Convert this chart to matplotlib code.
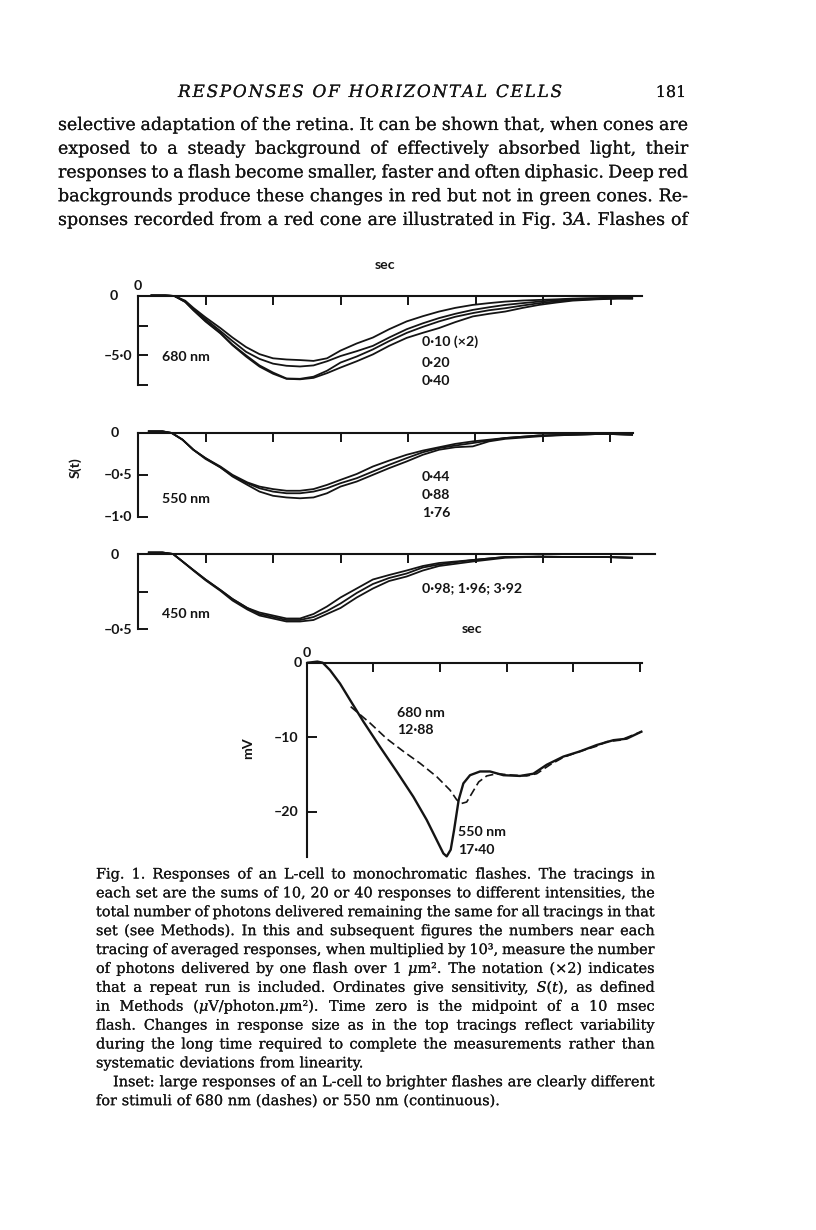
import matplotlib
matplotlib.use('Agg')
import matplotlib.pyplot as plt
import matplotlib.patheffects as pe

W, H = 816, 1230
INK = '#141414'
SANS = ['Lato', 'DejaVu Sans']
SERIF = ['DejaVu Serif']

plt.rcParams['mathtext.fontset'] = 'dejavuserif'

# ---- page text ----
header = 'RESPONSES OF HORIZONTAL CELLS'
page_no = '181'
body_lines = [
    'selective adaptation of the retina. It can be shown that, when cones are',
    'exposed to a steady background of effectively absorbed light, their',
    'responses to a flash become smaller, faster and often diphasic. Deep red',
    'backgrounds produce these changes in red but not in green cones. Re-',
    'sponses recorded from a red cone are illustrated in Fig. 3$A$. Flashes of',
]
caption_lines = [
    'Fig. 1. Responses of an L-cell to monochromatic flashes. The tracings in',
    'each set are the sums of 10, 20 or 40 responses to different intensities, the',
    'total number of photons delivered remaining the same for all tracings in that',
    'set (see Methods). In this and subsequent figures the numbers near each',
    'tracing of averaged responses, when multiplied by 10³, measure the number',
    'of photons delivered by one flash over 1 $\\mu$m². The notation (×2) indicates',
    'that a repeat run is included. Ordinates give sensitivity, $S(t)$, as defined',
    'in Methods ($\\mu$V/photon.$\\mu$m²). Time zero is the midpoint of a 10 msec',
    'flash. Changes in response size as in the top tracings reflect variability',
    'during the long time required to complete the measurements rather than',
    'systematic deviations from linearity.',
    'Inset: large responses of an L-cell to brighter flashes are clearly different',
    'for stimuli of 680 nm (dashes) or 550 nm (continuous).',
]
caption_ragged = [10, 12]   # paragraph ends, not justified
caption_indent = [11]

# ---- 680 nm traces, S(t) ----
t680 = [0.010, 0.020, 0.027, 0.035, 0.041, 0.050, 0.061, 0.070, 0.080, 0.090,
        0.100, 0.110, 0.120, 0.130, 0.140, 0.150, 0.162, 0.174, 0.186, 0.199,
        0.211, 0.223, 0.235, 0.248, 0.260, 0.272, 0.285, 0.297, 0.310, 0.322,
        0.340, 0.355, 0.366]
s680_a = [0.05, 0.05, 0.0, -0.4, -1.0, -1.8, -2.7, -3.5, -4.3, -4.9,
          -5.25, -5.35, -5.4, -5.47, -5.25, -4.6, -4.0, -3.5, -2.8, -2.14,
          -1.7, -1.31, -1.0, -0.75, -0.6, -0.47, -0.38, -0.33, -0.28, -0.22,
          -0.18, -0.12, -0.15]
s680_b = [0.03, 0.03, 0.0, -0.45, -1.1, -1.95, -2.95, -3.8, -4.7, -5.3,
          -5.7, -5.88, -5.94, -5.85, -5.5, -5.06, -4.65, -4.2, -3.5, -2.8,
          -2.3, -1.86, -1.5, -1.17, -0.95, -0.75, -0.6, -0.47, -0.35, -0.25,
          -0.2, -0.16, -0.19]
s680_c = [0.05, 0.05, 0.0, -0.5, -1.17, -2.1, -3.1, -4.1, -5.0, -5.85,
          -6.45, -6.95, -6.98, -6.8, -6.3, -5.61, -5.1, -4.5, -3.8, -3.11,
          -2.6, -2.14, -1.75, -1.44, -1.2, -1.03, -0.8, -0.61, -0.45, -0.33,
          -0.25, -0.2, -0.2]
s680_d = [0.05, 0.05, 0.0, -0.5, -1.2, -2.15, -3.15, -4.15, -5.1, -5.95,
          -6.55, -6.98, -7.02, -6.9, -6.5, -6.03, -5.5, -4.92, -4.2, -3.53,
          -3.1, -2.7, -2.2, -1.72, -1.5, -1.31, -1.0, -0.75, -0.55, -0.39,
          -0.28, -0.22, -0.22]

# ---- 550 nm traces ----
t550 = [0.008, 0.018, 0.025, 0.033, 0.041, 0.050, 0.061, 0.070, 0.081, 0.090,
        0.100, 0.110, 0.120, 0.130, 0.140, 0.150, 0.162, 0.174, 0.186, 0.199,
        0.211, 0.223, 0.235, 0.248, 0.260, 0.272, 0.297, 0.322, 0.346, 0.366]
s550_a = [0.02, 0.02, 0.0, -0.08, -0.2, -0.3, -0.40, -0.5, -0.59, -0.64,
          -0.67, -0.69, -0.69, -0.67, -0.62, -0.56, -0.49, -0.40, -0.33, -0.26,
          -0.21, -0.17, -0.13, -0.10, -0.08, -0.06, -0.03, -0.02, -0.01, -0.02]
s550_b = [0.02, 0.02, 0.0, -0.08, -0.2, -0.3, -0.41, -0.51, -0.60, -0.66,
          -0.70, -0.72, -0.72, -0.70, -0.66, -0.60, -0.54, -0.46, -0.38, -0.30,
          -0.23, -0.18, -0.15, -0.12, -0.09, -0.06, -0.03, -0.02, -0.01, -0.02]
s550_c = [0.02, 0.02, 0.0, -0.08, -0.2, -0.31, -0.41, -0.52, -0.62, -0.70,
          -0.75, -0.77, -0.78, -0.77, -0.72, -0.64, -0.58, -0.50, -0.42, -0.34,
          -0.26, -0.20, -0.17, -0.16, -0.10, -0.07, -0.04, -0.02, -0.01, -0.02]

# ---- 450 nm traces ----
t450 = [0.008, 0.018, 0.026, 0.033, 0.041, 0.050, 0.061, 0.070, 0.081, 0.090,
        0.100, 0.110, 0.120, 0.130, 0.140, 0.150, 0.162, 0.174, 0.186, 0.199,
        0.211, 0.223, 0.248, 0.272, 0.297, 0.322, 0.346, 0.366]
s450_a = [0.01, 0.01, 0.0, -0.05, -0.107, -0.17, -0.24, -0.30, -0.36, -0.39,
          -0.41, -0.43, -0.43, -0.40, -0.35, -0.29, -0.23, -0.17, -0.14, -0.11,
          -0.08, -0.06, -0.04, -0.02, -0.018, -0.02, -0.02, -0.025]
s450_b = [0.01, 0.01, 0.0, -0.05, -0.107, -0.17, -0.24, -0.30, -0.36, -0.40,
          -0.42, -0.44, -0.44, -0.42, -0.38, -0.33, -0.26, -0.20, -0.16, -0.13,
          -0.09, -0.07, -0.04, -0.02, -0.018, -0.02, -0.02, -0.025]
s450_c = [0.01, 0.01, 0.0, -0.05, -0.11, -0.175, -0.245, -0.31, -0.37, -0.41,
          -0.43, -0.45, -0.45, -0.44, -0.40, -0.36, -0.29, -0.23, -0.18, -0.15,
          -0.11, -0.08, -0.05, -0.025, -0.018, -0.02, -0.02, -0.025]

# ---- inset, mV ----
t_cont = [0.001, 0.008, 0.012, 0.0175, 0.025, 0.0325, 0.0425, 0.055, 0.0675, 0.08,
          0.09, 0.0975, 0.1025, 0.105, 0.108, 0.1105, 0.114, 0.1175, 0.1225, 0.13,
          0.1375, 0.1475, 0.16, 0.17, 0.18, 0.1925, 0.205, 0.2175, 0.23, 0.24, 0.251]
mv_cont = [0.0, 0.15, 0.0, -1.0, -2.8, -5.0, -7.9, -11.3, -14.6, -18.0,
           -21.1, -23.8, -25.6, -26.0, -25.1, -22.5, -18.4, -16.2, -15.1, -14.6,
           -14.6, -15.1, -15.2, -14.9, -13.7, -12.6, -11.9, -11.05, -10.4, -10.2, -9.26]
t_dash = [0.033, 0.0475, 0.06, 0.0725, 0.085, 0.0975, 0.1075, 0.1125, 0.116, 0.12,
          0.124, 0.129, 0.135, 0.1425, 0.155, 0.165, 0.1725, 0.1825, 0.1925, 0.205,
          0.2175, 0.225, 0.235, 0.251]
mv_dash = [-5.9, -8.1, -10.2, -11.9, -13.5, -15.3, -17.1, -18.4, -18.9, -18.7,
           -17.5, -16.0, -15.2, -14.9, -15.1, -15.2, -14.9, -13.7, -12.7, -11.9,
           -11.2, -10.6, -10.4, -9.26]

ticks_main = [0.05, 0.10, 0.15, 0.20, 0.25, 0.30, 0.35]
ticks_inset = [0.05, 0.10, 0.15, 0.20, 0.25]

fig = plt.figure(figsize=(W / 100, H / 100), dpi=100)
fig.patch.set_facecolor('white')
renderer = fig.canvas.get_renderer()

# scanned print is a touch heavier than a clean font
INKY = [pe.withStroke(linewidth=0.1, foreground=INK)]


def fx(x):
    return x / W


def fy(y):
    return 1 - y / H


def put(x, y, s, **kw):
    kw.setdefault('color', INK)
    return fig.text(fx(x), fy(y), s, **kw)


def width(s, **kw):
    t = fig.text(0, 0, s, **kw)
    w = t.get_window_extent(renderer).width
    t.remove()
    return w


def text_block(lines, x0, x1, base0, dy, ragged=(), indent=(), ind=17, q=0.5, **kw):
    # font size from a typical line, then spread words to both margins
    probe = dict(kw, fontsize=10)
    sp = width('a a', **probe) - width('aa', **probe)
    fit = []
    for i, line in enumerate(lines):
        if i in ragged:
            continue
        words = line.split(' ')
        nat = sum(width(w, **probe) for w in words) + sp * (len(words) - 1)
        fit.append((x1 - x0 - (ind if i in indent else 0)) / nat)
    fit.sort()
    size = 10 * fit[int(q * (len(fit) - 1))]
    kw = dict(kw, fontsize=size)
    sp = width('a a', **kw) - width('aa', **kw)
    for i, line in enumerate(lines):
        words = line.split(' ')
        ws = [width(w, **kw) for w in words]
        start = x0 + (ind if i in indent else 0)
        if i in ragged or len(words) == 1:
            gap = sp
        else:
            gap = max((x1 - start - sum(ws)) / (len(words) - 1), 0.55 * sp)
        x = start
        for w, wd in zip(words, ws):
            put(x, base0 + i * dy, w, ha='left', va='baseline', path_effects=INKY, **kw)
            x += wd + gap


def tracked(s, x0, x1, base, **kw):
    sp = width('a a', **kw) - width('aa', **kw)
    ws = [sp if c == ' ' else width(c, **kw) for c in s]
    extra = (x1 - x0 - sum(ws)) / (len(s) - 1)
    x = x0
    for c, wd in zip(s, ws):
        if c != ' ':
            put(x, base, c, ha='left', va='baseline', path_effects=INKY, **kw)
        x += wd + extra


# header and running text
tracked(header, 178, 562, 97, family=SERIF, style='italic', fontsize=12.2)
put(686.5, 97, page_no, ha='right', va='baseline', family=SERIF, fontsize=11.5,
    path_effects=INKY)
text_block(body_lines, 58, 688, 130, 23.75, family=SERIF)
text_block(caption_lines, 96, 655, 878.5, 18.89, ragged=caption_ragged,
           indent=caption_indent, q=0.2, family=SERIF)

LAB = dict(family=SANS, fontsize=10.2, fontweight='bold')


def panel(left, right, top, bottom, xmax, ymin, yticks, xticks, xlabels=None, major=None):
    ax = fig.add_axes([fx(left), fy(bottom), (right - left) / W, (bottom - top) / H])
    ax.set_xlim(0, xmax)
    ax.set_ylim(ymin, 0)
    ax.patch.set_visible(False)
    for side in ('right', 'bottom'):
        ax.spines[side].set_visible(False)
    for side in ('top', 'left'):
        ax.spines[side].set_linewidth(1.5)
        ax.spines[side].set_color(INK)
    ax.xaxis.tick_top()
    ax.set_xticks(xticks)
    ax.set_xticklabels([])
    if major is not None:
        ax.set_xticks(major, minor=True)
        ax.set_xticklabels(xlabels, minor=True, **LAB)
    ax.set_yticks(yticks)
    ax.set_yticklabels([])
    ax.tick_params(axis='both', which='both', direction='in', width=1.4, color=INK,
                   labelcolor=INK)
    ax.tick_params(axis='x', which='major', length=6.5)
    ax.tick_params(axis='x', which='minor', length=0, pad=3)
    ax.tick_params(axis='y', length=7.5)
    return ax


def traces(ax, t, series, lw=1.3):
    for s in series:
        ax.plot(t, s, color=INK, lw=lw, clip_on=False, solid_joinstyle='round')


# 680 nm
ax1 = panel(138, 641.6, 296, 385, 0.373, -7.5, [-2.5, -5.0, -7.5], ticks_main,
            ['0', '0·1', '0·2', '0·3'], [0.0, 0.1, 0.2, 0.3])
traces(ax1, t680, [s680_a, s680_b, s680_c, s680_d])
put(385, 265, 'sec', ha='center', va='center', **LAB)
put(113.5, 296, '0', ha='center', va='center', **LAB)
put(132, 356, '–5·0', ha='right', va='center', **LAB)
put(161.7, 357.3, '680 nm', ha='left', va='center', **LAB)
put(421.7, 341.7, '0·10 (×2)', ha='left', va='center', **LAB)
put(421.7, 363.3, '0·20', ha='left', va='center', **LAB)
put(421.7, 380.7, '0·40', ha='left', va='center', **LAB)

# 550 nm
ax2 = panel(138, 633, 433, 516.7, (633 - 138) / 1350, -1.0, [-0.5, -1.0], ticks_main)
traces(ax2, t550, [s550_a, s550_b, s550_c])
put(115, 433, '0', ha='center', va='center', **LAB)
put(132, 475, '–0·5', ha='right', va='center', **LAB)
put(132, 516.7, '–1·0', ha='right', va='center', **LAB)
put(161.7, 499.3, '550 nm', ha='left', va='center', **LAB)
put(421.7, 476.7, '0·44', ha='left', va='center', **LAB)
put(421.7, 495, '0·88', ha='left', va='center', **LAB)
put(421.7, 512.7, '1·76', ha='left', va='center', **LAB)
put(75, 468, 'S(t)', ha='center', va='center', rotation=90, **LAB)

# 450 nm
ax3 = panel(138, 655, 554, 629, (655 - 138) / 1350, -0.5, [-0.25, -0.5], ticks_main)
traces(ax3, t450, [s450_a, s450_b, s450_c])
put(115, 555, '0', ha='center', va='center', **LAB)
put(132, 630, '–0·5', ha='right', va='center', **LAB)
put(161.7, 614, '450 nm', ha='left', va='center', **LAB)
put(421.7, 588.3, '0·98; 1·96; 3·92', ha='left', va='center', **LAB)

# inset
ax4 = panel(306.7, 641.7, 662.7, 856.7, 0.25125, -26.04, [-10, -20], ticks_inset,
            ['0', '0·1', '0·2'], [0.0, 0.1, 0.2])
ax4.plot(t_cont, mv_cont, color=INK, lw=1.7, clip_on=False, solid_joinstyle='round')
ax4.plot(t_dash, mv_dash, color=INK, lw=1.2, dashes=(5, 2.4), clip_on=False)
put(472, 629, 'sec', ha='center', va='center', **LAB)
put(301.5, 662.7, '0', ha='right', va='center', **LAB)
put(298.5, 738.3, '–10', ha='right', va='center', **LAB)
put(298.5, 811.7, '–20', ha='right', va='center', **LAB)
put(248, 748, 'mV', ha='center', va='center', rotation=90, **LAB)
put(396.7, 713.3, '680 nm', ha='left', va='center', **LAB)
put(396.7, 730, '12·88', ha='left', va='center', **LAB)
put(458.3, 831.7, '550 nm', ha='left', va='center', **LAB)
put(458.3, 850, '17·40', ha='left', va='center', **LAB)

fig.savefig('out.png', dpi=100, facecolor='white')
